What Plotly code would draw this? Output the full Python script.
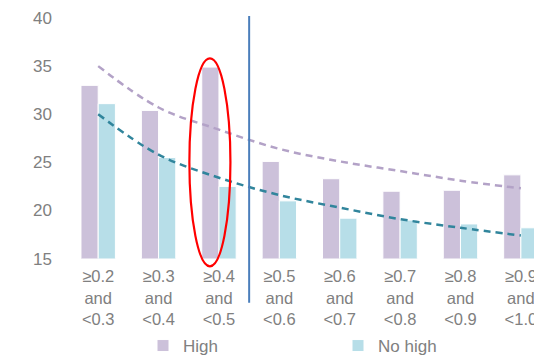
import plotly.graph_objects as go

categories = ["≥0.2<br>and<br>&lt;0.3", "≥0.3<br>and<br>&lt;0.4", "≥0.4<br>and<br>&lt;0.5",
              "≥0.5<br>and<br>&lt;0.6", "≥0.6<br>and<br>&lt;0.7", "≥0.7<br>and<br>&lt;0.8",
              "≥0.8<br>and<br>&lt;0.9", "≥0.9<br>and<br>&lt;1.0"]
high = [33.0, 30.4, 34.9, 25.1, 23.3, 22.0, 22.1, 23.7]
no_high = [31.1, 25.5, 22.5, 21.0, 19.2, 19.0, 18.6, 18.2]
high_trend = [35.0, 30.7, 28.4, 26.4, 25.1, 24.1, 23.1, 22.3]
no_high_trend = [30.0, 25.8, 23.4, 21.6, 20.3, 19.1, 18.2, 17.4]
y_ticks = [15, 20, 25, 30, 35, 40]

x_idx = list(range(len(categories)))
Y_MIN, Y_MAX = 15, 40

def ypaper(v):
    return (v - Y_MIN) / (Y_MAX - Y_MIN)

fig = go.Figure()
fig.add_trace(go.Bar(x=x_idx, y=high, name="High", marker=dict(color="#CCC1DA", line=dict(color="white", width=1))))
fig.add_trace(go.Bar(x=x_idx, y=no_high, name="No high", marker=dict(color="#B7DEE8", line=dict(color="white", width=1))))
fig.add_trace(go.Scatter(x=x_idx, y=high_trend, mode="lines", showlegend=False,
                         line=dict(color="#B3A2C7", width=2.5, dash="7px,5px", shape="spline")))
fig.add_trace(go.Scatter(x=x_idx, y=no_high_trend, mode="lines", showlegend=False,
                         line=dict(color="#31859C", width=2.5, dash="7px,5px", shape="spline")))

# vertical divider between 3rd and 4th category
fig.add_shape(type="line", xref="x", yref="paper", x0=2.5, x1=2.5, y0=ypaper(40.2), y1=ypaper(10.4),
              line=dict(color="#4A7EBB", width=2))
# red ellipse highlighting 3rd category
fig.add_shape(type="circle", xref="x", yref="paper", x0=1.51, x1=2.19, y0=ypaper(14.2), y1=ypaper(35.8),
              line=dict(color="#FF0000", width=2.2))

# clipped title fragment at top
fig.add_annotation(text="<b>y</b>", xref="paper", yref="paper", x=0.858, y=1.039, yanchor="bottom",
                   xanchor="center", showarrow=False, font=dict(size=20, color="#595959"))

# the page body adds an 8px offset, so the figure is sized 8px smaller on each axis
fig.update_layout(
    width=534, height=348,
    margin=dict(l=60, r=0, t=10, b=96),
    plot_bgcolor="white", paper_bgcolor="white",
    barmode="group", bargap=0.43, bargroupgap=0,
    font=dict(family="Liberation Sans, Arial, sans-serif", size=17, color="#808080"),
    xaxis=dict(tickmode="array", tickvals=x_idx, ticktext=categories, range=[-0.5, 7.35],
               showgrid=False, showline=False, zeroline=False, ticks="", ticklabelstandoff=6,
               tickfont=dict(size=16.5, color="#808080")),
    yaxis=dict(range=[Y_MIN, Y_MAX], tickvals=y_ticks, showgrid=False, showline=False, zeroline=False,
               ticks="", ticklabelstandoff=15, tickfont=dict(size=17, color="#808080")),
    legend=dict(orientation="h", xref="container", yref="container", x=135 / 534, y=1 - 338 / 348,
                yanchor="middle", xanchor="left", entrywidth=150, entrywidthmode="pixels",
                font=dict(size=17, color="#808080")),
)

fig.write_html("out.html")
